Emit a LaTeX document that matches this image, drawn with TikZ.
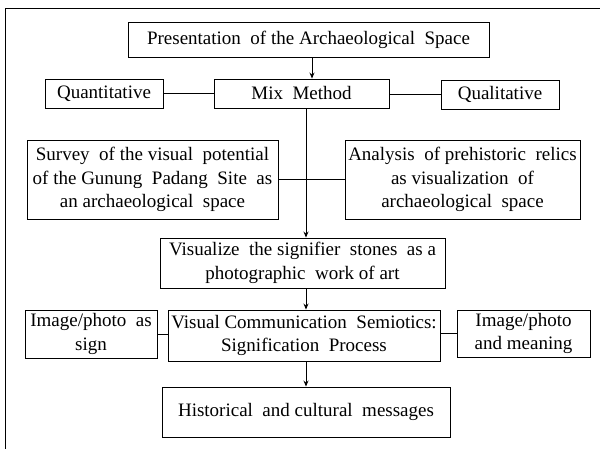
\documentclass[tikz,border=0pt]{standalone}
\usepackage{fontspec}
\setmainfont{Liberation Serif}
\usetikzlibrary{arrows.meta}
\begin{document}
\begin{tikzpicture}[x=1pt,y=-1pt,
  box/.style={draw, line width=0.9pt, inner sep=0pt, align=center, font=\fontsize{19}{23.5}\selectfont},
  conn/.style={line width=0.9pt},
  arr/.style={line width=0.9pt, -{Stealth[length=6pt,width=5pt]}}]
\useasboundingbox (0,0) rectangle (600,449);
\draw[line width=0.9pt] (5,452) -- (5,8) -- (603,8);
\node[box, minimum width=361pt, minimum height=35pt] (pres) at (308.5,39.5) {Presentation \ of the Archaeological \ Space};
\node[box, minimum width=175pt, minimum height=29pt] (mix) at (301.5,93.5) {Mix \ Method};
\node[box, minimum width=118pt, minimum height=29pt] (quan) at (104,93.5) {Quantitative};
\node[box, minimum width=118pt, minimum height=29pt] (qual) at (500,94.5) {Qualitative};
\node[box, minimum width=251pt, minimum height=79pt] (surv) at (152.5,179.5) {Survey \ of the visual \ potential\\of the Gunung \ Padang \ Site \ as\\an archaeological \ space};
\node[box, minimum width=235pt, minimum height=79pt] (anal) at (462.5,179.5) {Analysis \ of prehistoric \ relics\\as visualization \ of\\archaeological \ space};
\node[box, minimum width=285pt, minimum height=50pt] (vis) at (302.5,263) {Visualize \ the signifier \ stones \ as a\\photographic \ work of art};
\node[box, minimum width=272pt, minimum height=51pt] (vcs) at (304,335.5) {Visual Communication \ Semiotics:\\Signification \ Process};
\node[box, minimum width=132pt, minimum height=48pt] (sign) at (91,334) {Image/photo \ as\\sign};
\node[box, minimum width=133pt, minimum height=47pt] (mean) at (523.5,333.5) {Image/photo\\and meaning};
\node[box, minimum width=288pt, minimum height=50pt] (hist) at (306,412) {Historical \ and cultural \ messages};
\coordinate (c1) at (312,0);
\coordinate (c2) at (306,0);
\draw[arr] (pres.south -| c1) -- (mix.north -| c1);
\draw[conn] (quan.east) -- (quan.east -| mix.west);
\draw[conn] (mix.east |- qual.west) -- (qual.west);
\draw[arr] (mix.south -| c2) -- (vis.north -| c2);
\draw[conn] (surv.east) -- (anal.west);
\draw[arr] (vis.south -| c2) -- (vcs.north -| c2);
\draw[conn] (sign.east) -- (sign.east -| vcs.west);
\draw[conn] (vcs.east |- mean.west) -- (mean.west);
\draw[arr] (vcs.south -| c2) -- (hist.north -| c2);
\end{tikzpicture}
\end{document}
